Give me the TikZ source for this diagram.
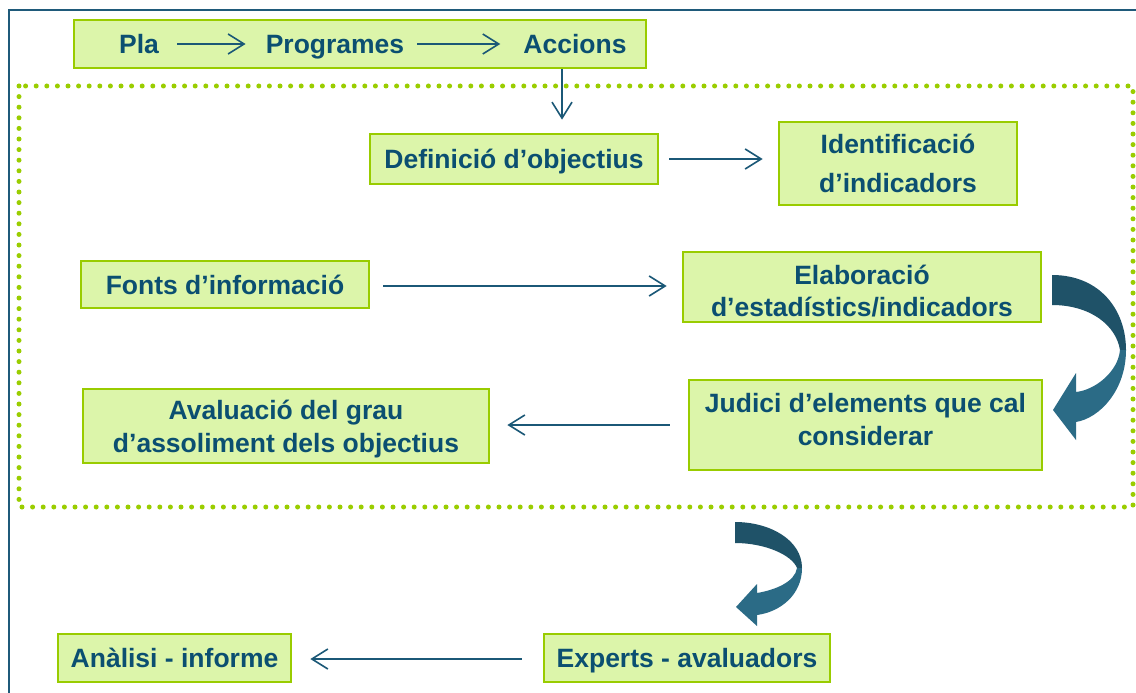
\documentclass[tikz,border=0pt]{standalone}
\usepackage{fontspec}
\setmainfont{Liberation Sans}
\usetikzlibrary{arrows.meta,calc}
\definecolor{txt}{HTML}{0B4F71}
\definecolor{arrc}{HTML}{1B5877}
\definecolor{boxfill}{HTML}{DCF5AA}
\definecolor{boxline}{HTML}{99CC00}
\definecolor{dotc}{HTML}{9ACD00}
\definecolor{framec}{HTML}{1F5A7A}
\definecolor{cdark}{HTML}{1F5268}
\definecolor{clight}{HTML}{2B6B86}
\begin{document}
\begin{tikzpicture}[x=1pt,y=-1pt,
  box/.style={draw=boxline, fill=boxfill, line width=2.7pt, text=txt,
    font=\fontsize{26.5}{32.5}\selectfont\bfseries, align=center, inner sep=0pt},
  oneline/.style={text height=19pt, text depth=0pt},
  lbl/.style={text=txt, font=\fontsize{26.5}{33}\selectfont\bfseries, inner sep=0pt, oneline},
  arr/.style={draw=arrc, line width=1.6pt, -{Straight Barb[length=16pt,width=20pt,line width=1.6pt]}},
  dotline/.style={draw=dotc, line width=5pt, line cap=round, dash pattern=on 0pt off 10.6pt},
  frameline/.style={draw=framec, line width=2pt}]
\useasboundingbox (0,0) rectangle (1136,693);
\fill[white] (0,0) rectangle (1136,693);
\begin{scope}
\clip (0,0) rectangle (1136,693);
\draw[frameline] (1150,10) -- (9,10) -- (9,710);
\end{scope}
\draw[dotline] (19,86) rectangle (1133,507);

% top box
\node[box, minimum width=572pt, minimum height=48pt] (top) at (360,44) {};
\node[lbl] (pla) at (139,44) {Pla};
\node[lbl] (prog) at (335,44) {Programes};
\node[lbl] (acc) at (575,44) {Accions};
\draw[arr, shorten <=18pt, shorten >=20pt] (pla.east) -- (prog.west);
\draw[arr, shorten <=13pt, shorten >=23pt] (prog.east) -- (acc.west);

\node[box, oneline, minimum width=288pt, minimum height=50pt] (def) at (514,159) {Definició d’objectius};
\node[box, minimum width=238pt, minimum height=83pt] (ident) at (898,163.5) {Identificació\\[7pt]d’indicadors};
\node[box, oneline, minimum width=288pt, minimum height=47pt] (fonts) at (225,284.5) {Fonts d’informació};
\node[box, text height=59.4pt, text depth=0pt, minimum width=358pt, minimum height=70pt] (elab) at (862,287) {Elaboració\\d’estadístics/indicadors};
\node[box, text height=40pt, text depth=0pt, minimum width=353pt, minimum height=90pt] (judici) at (865.5,425) {Judici d’elements que cal\\considerar};
\node[box, text height=52pt, text depth=0pt, minimum width=406pt, minimum height=74pt] (aval) at (286,426) {Avaluació del grau\\d’assoliment dels objectius};
\node[box, oneline, minimum width=286pt, minimum height=48pt] (experts) at (687,658) {Experts - avaluadors};
\node[box, oneline, minimum width=233pt, minimum height=48pt] (analisi) at (174.5,658) {Anàlisi - informe};

\draw[arr, shorten >=13pt] ([xshift=202pt]top.south) -- ([xshift=48pt]def.north);
\draw[arr, shorten <=10pt, shorten >=15pt] (def.east) -- (def.east -| ident.west);
\draw[arr, shorten <=13pt, shorten >=15pt] ([yshift=-1.5pt]fonts.east) -- ([yshift=-1.5pt]fonts.east -| elab.west);
\draw[arr, shorten <=18pt, shorten >=17pt] (judici.west) -- (judici.west -| aval.east);
\draw[arr, shorten <=21pt, shorten >=18pt] ([yshift=-1pt]experts.west) -- ([yshift=-1pt]experts.west -| analisi.east);

% curved arrow 1
\fill[cdark] (1052,275) .. controls (1100,275) and (1126,310) .. (1126,350)
  -- (1120,350) .. controls (1116,325) and (1090,305) .. (1052,305) -- cycle;
\fill[clight] (1126,350) .. controls (1126,390) and (1100,418) .. (1076,422)
  -- (1076,440) -- (1053,410) -- (1076,373) -- (1076,392)
  .. controls (1095,390) and (1118,372) .. (1120,350) -- cycle;
% curved arrow 2
\fill[cdark] (735,522) .. controls (770,522) and (802,540) .. (802,568)
  -- (797,568) .. controls (792,555) and (765,543) .. (735,543) -- cycle;
\fill[clight] (802,568) .. controls (802,595) and (780,612) .. (757,615)
  -- (757,626) -- (736,607) -- (757,584) -- (757,593)
  .. controls (775,590) and (795,582) .. (797,568) -- cycle;
\end{tikzpicture}
\end{document}
